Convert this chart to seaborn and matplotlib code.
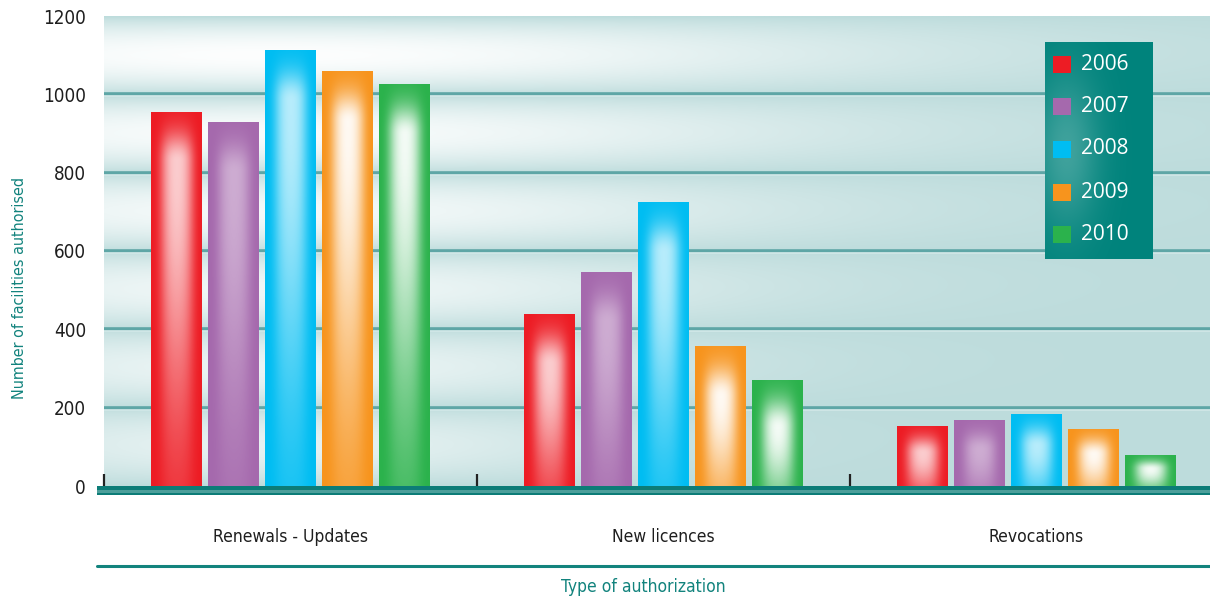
import numpy as np
import pandas as pd
import seaborn as sns
import matplotlib
matplotlib.use("Agg")
import matplotlib.pyplot as plt
from matplotlib.patches import Rectangle
from matplotlib.lines import Line2D
from matplotlib.colors import to_rgb

# ---- data -------------------------------------------------------------
categories = ["Renewals - Updates", "New licences", "Revocations"]
years = ["2006", "2007", "2008", "2009", "2010"]
v2006 = [955, 439, 153]
v2007 = [929, 546, 168]
v2008 = [1113, 725, 184]
v2009 = [1059, 357, 146]
v2010 = [1026, 271, 79]
y_ticks = [0, 200, 400, 600, 800, 1000, 1200]

series = [v2006, v2007, v2008, v2009, v2010]
colors = ["#ed1c24", "#a569ad", "#00bdf2", "#f7941d", "#2bb24c"]
highlight = [0.78, 0.45, 0.72, 0.95, 0.95]
teal = "#12837d"

df = pd.DataFrame(
    [(c, y, vals[i]) for y, vals in zip(years, series) for i, c in enumerate(categories)],
    columns=["category", "year", "value"],
)

sns.set_theme(style="white")
plt.rcParams["font.family"] = ["DejaVu Sans"]
plt.rcParams["font.stretch"] = "condensed"

W, H = 1210, 600
fig = plt.figure(figsize=(W / 100, H / 100), dpi=100)
fig.patch.set_facecolor("white")


def fx(px):
    return px / W


def fy(py):
    return 1 - py / H


ax_l, ax_r, ax_t, ax_b = 104, 1210, 16, 486
ax = fig.add_axes([fx(ax_l), fy(ax_b), fx(ax_r) - fx(ax_l), fy(ax_t) - fy(ax_b)])
XLIM = (-0.5, 2.465)
YLIM = (0, 1200)

sns.barplot(
    data=df, x="category", y="value", hue="year", order=categories,
    hue_order=years, palette=colors, saturation=1, width=0.765, gap=0.1,
    linewidth=0, ax=ax, legend=False, zorder=3, errorbar=None,
)

# ---- plot-area background with soft glows ----------------------------
ax_wpx = ax_r - ax_l
ax_hpx = ax_b - ax_t
nxb, nyb = 400, 300
X = np.linspace(0, ax_wpx, nxb)[None, :]
Yv = np.linspace(1200, 0, nyb)[:, None]
band = np.sin(np.pi * (Yv % 200) / 200) ** 0.8
spread = 320 + 320 * Yv / 1200
glow = band * np.exp(-((X - 170) / spread) ** 2) * (0.6 + 0.4 * Yv / 1200)
glow = np.clip(glow, 0, 1)
base = np.array(to_rgb("#bddcdc"))
bg = base[None, None, :] * (1 - glow[..., None]) + glow[..., None]
ax.imshow(bg, extent=[0, 1, 0, 1], transform=ax.transAxes, aspect="auto",
          zorder=0.1, interpolation="bilinear")

# ---- bar highlights ---------------------------------------------------
px_per_unit = ax_hpx / (YLIM[1] - YLIM[0])
bars = [p for p in ax.patches if isinstance(p, Rectangle)]
for p in bars:
    x0, w, h = p.get_x(), p.get_width(), p.get_height()
    if h <= 0:
        continue
    fc = to_rgb(p.get_facecolor())
    idx = [np.allclose(fc, to_rgb(c), atol=0.02) for c in colors].index(True)
    hp = h * px_per_unit
    ny = max(int(hp), 4)
    u = np.linspace(0, 1, 48)[None, :]
    d = np.linspace(0, hp, ny)[:, None]
    d0 = min(50.0, 0.45 * hp)
    top = 0.55 * d0 + 1
    S = max(0.65 * hp, 20)
    vy = np.where(d < d0, np.exp(-((d - d0) / top) ** 2), np.exp(-((d - d0) / S) ** 2))
    hx = np.exp(-((u - 0.5) / 0.36) ** 4) * np.exp(-((u - 0.5) / 0.45) ** 2)
    a = highlight[idx] * hx * vy
    img = np.ones((ny, 48, 4))
    img[..., 3] = a
    im = ax.imshow(img, extent=[x0, x0 + w, 0, h], aspect="auto", zorder=3.5,
                   interpolation="bilinear")
    im.set_clip_path(p)

# ---- axes styling -----------------------------------------------------
ax.set_xlim(*XLIM)
ax.set_ylim(*YLIM)
ax.set_aspect("auto")
for s in ax.spines.values():
    s.set_visible(False)
for yv in y_ticks[1:-1]:
    ax.axhline(yv, color="#5ea6a6", lw=2.6, zorder=1)
    ax.axhline(yv - 5, color="#d2e8e8", lw=1.2, zorder=1)

ax.set_yticks(y_ticks)
ax.set_yticklabels([str(v) for v in y_ticks])
ax.tick_params(axis="y", length=0, pad=13, labelsize=13.5, labelcolor="#1e1e1e")
ax.set_xticks([0, 1, 2])
ax.set_xticklabels(categories)
ax.tick_params(axis="x", which="major", length=0, pad=30, labelsize=12.5,
               labelcolor="#1e1e1e")
ax.set_xticks([-0.5, 0.5, 1.5], minor=True)
ax.tick_params(axis="x", which="minor", bottom=True, direction="in", length=9,
               width=1.6, color="#222222")
for lab in ax.get_xticklabels() + ax.get_yticklabels():
    lab.set_fontweight("medium")
ax.set_xlabel("")
ax.set_ylabel("")

# thick base bar along the category axis
fig.add_artist(Rectangle((fx(97), fy(495)), fx(1210) - fx(97), 9 / H,
                         transform=fig.transFigure, facecolor="#0c7c77",
                         edgecolor="none", zorder=5))
fig.add_artist(Rectangle((fx(97), fy(493)), fx(1210) - fx(97), 3 / H,
                         transform=fig.transFigure, facecolor="#4c9f9b",
                         edgecolor="none", zorder=5))

# rule above the axis title
fig.add_artist(Line2D([fx(97), fx(1210)], [fy(566), fy(566)],
                      transform=fig.transFigure, color=teal, lw=2.2))
fig.text(fx(643), fy(587), "Type of authorization", ha="center", va="center",
         fontsize=12.5, color=teal, fontweight="medium")
fig.text(fx(20), fy(288), "Number of facilities authorised", ha="center",
         va="center", rotation=90, fontsize=11.5, color=teal, fontweight="medium")

# ---- legend -----------------------------------------------------------
lx0, ly0, lx1, ly1 = 1045, 42, 1153, 259
lax = fig.add_axes([fx(lx0), fy(ly1), fx(lx1) - fx(lx0), fy(ly0) - fy(ly1)], zorder=10)
lw_, lh_ = lx1 - lx0, ly1 - ly0
gx = np.linspace(0, 1, 120)[None, :]
gy = np.linspace(0, 1, 200)[:, None]
lg = 0.4 * np.exp(-((gx - 0.2) / 0.3) ** 2 - ((gy - 0.5) / 0.35) ** 2)
lbase = np.array(to_rgb("#00837c"))
lbg = lbase[None, None, :] * (1 - lg[..., None]) + lg[..., None] * np.array(to_rgb("#9fd0cd"))
lax.imshow(lbg, extent=[0, lw_, lh_, 0], aspect="auto", interpolation="bilinear")
lax.set_xlim(0, lw_)
lax.set_ylim(lh_, 0)
lax.axis("off")
row_y = [64, 106, 149, 192, 234]
for yr, c, ry in zip(years, colors, row_y):
    cy = ry - ly0
    lax.add_patch(Rectangle((8, cy - 8.5), 18, 17, facecolor=c, edgecolor="none"))
    lax.text(36, cy, yr, ha="left", va="center", color="white", fontsize=15,
             family=["Open Sans", "DejaVu Sans"], stretch="normal")

fig.savefig("out.png", dpi=100)
